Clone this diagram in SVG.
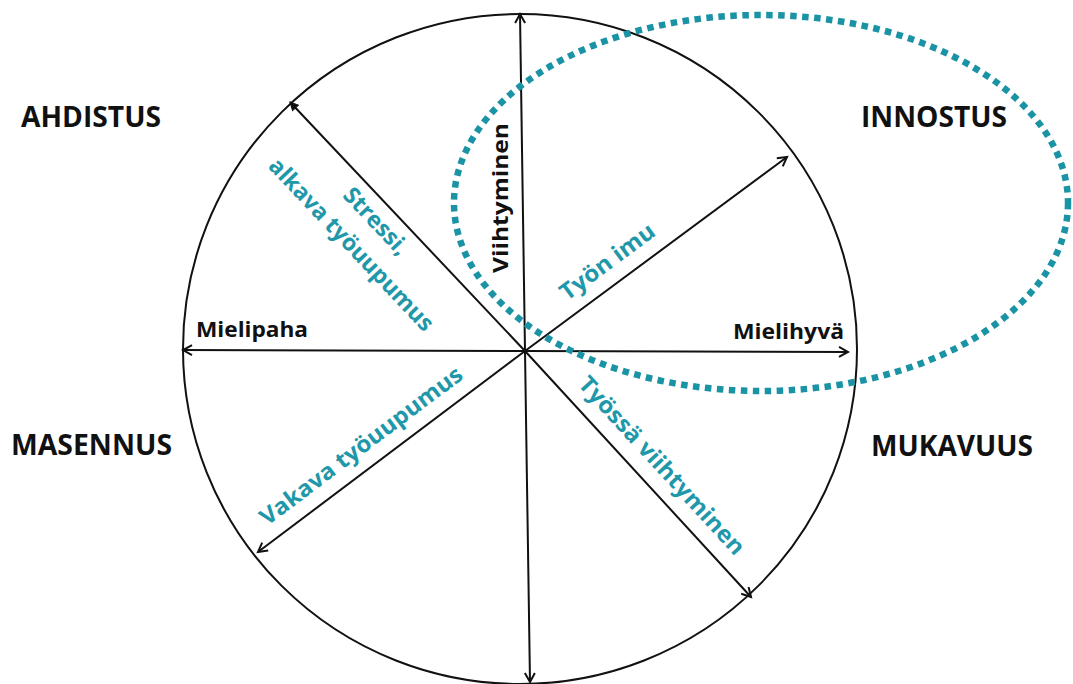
<svg xmlns="http://www.w3.org/2000/svg" width="1073" height="684" viewBox="0 0 1073 684">
<style>
.big{font-family:"Open Sans","Liberation Sans",sans-serif;font-weight:700;font-size:28px;fill:#111}
.lbl{font-family:"Open Sans","Liberation Sans",sans-serif;font-weight:700;font-size:22px;fill:#111}
.teal{font-family:"Open Sans","Liberation Sans",sans-serif;font-weight:700;font-size:23px;fill:#2197aa}
.spoke{stroke:#111;stroke-width:2;fill:none}
</style>
<defs>
<marker id="arr" markerUnits="userSpaceOnUse" markerWidth="14" markerHeight="14" refX="11" refY="6" orient="auto">
<path d="M2,1 L11,6 L2,11" fill="none" stroke="#111" stroke-width="2"/>
</marker>
<marker id="arrf" markerUnits="userSpaceOnUse" markerWidth="12" markerHeight="12" refX="9" refY="5" orient="auto">
<path d="M1,1 L9,5 L1,9 Z" fill="#111" stroke="#111" stroke-width="1"/>
</marker>
</defs>
<rect width="1073" height="684" fill="#fff"/>
<g id="circle">
<ellipse cx="520" cy="349" rx="337" ry="335" fill="none" stroke="#111" stroke-width="2"/>
</g>
<g id="connectors">
<line class="spoke" x1="525" y1="351" x2="520" y2="14" marker-end="url(#arr)"/>
<line class="spoke" x1="525" y1="351" x2="530" y2="682" marker-end="url(#arr)"/>
<line class="spoke" x1="525" y1="351" x2="183" y2="350" marker-end="url(#arr)"/>
<line class="spoke" x1="525" y1="351" x2="848" y2="352" marker-end="url(#arr)"/>
<line class="spoke" x1="525" y1="351" x2="290" y2="102" marker-end="url(#arrf)"/>
<line class="spoke" x1="525" y1="351" x2="787" y2="157" marker-end="url(#arr)"/>
<line class="spoke" x1="525" y1="351" x2="258" y2="552" marker-end="url(#arr)"/>
<line class="spoke" x1="525" y1="351" x2="751" y2="597" marker-end="url(#arr)"/>
</g>
<g id="innostus-zone">
<ellipse cx="761" cy="203" rx="307" ry="188" fill="none" stroke="#1a93a5" stroke-width="6.5" stroke-dasharray="6.5 5.5"/>
</g>
<g id="ahdistus"><text class="big" x="21" y="127" textLength="140" lengthAdjust="spacingAndGlyphs">AHDISTUS</text></g>
<g id="innostus"><text class="big" x="861" y="127" textLength="146" lengthAdjust="spacingAndGlyphs">INNOSTUS</text></g>
<g id="masennus"><text class="big" x="11" y="455" textLength="161" lengthAdjust="spacingAndGlyphs">MASENNUS</text></g>
<g id="mukavuus"><text class="big" x="871" y="456" textLength="162" lengthAdjust="spacingAndGlyphs">MUKAVUUS</text></g>
<g id="mielipaha"><text class="lbl" x="196" y="337" textLength="112" lengthAdjust="spacingAndGlyphs">Mielipaha</text></g>
<g id="mielihyva"><text class="lbl" x="733" y="339" textLength="111" lengthAdjust="spacingAndGlyphs">Mielihyvä</text></g>
<g id="viihtyminen" transform="translate(500,198) rotate(-90)"><text class="lbl" x="0" y="8" text-anchor="middle" textLength="150" lengthAdjust="spacingAndGlyphs">Viihtyminen</text></g>
<g id="stressi" transform="translate(390,208) rotate(46.6)">
<text class="teal" x="0" y="27" text-anchor="middle">Stressi,</text>
<text class="teal" x="0" y="61" text-anchor="middle" textLength="228" lengthAdjust="spacingAndGlyphs">alkava työuupumus</text>
</g>
<g id="tyon-imu" transform="translate(621,280) rotate(-36.5)"><text class="teal" x="0" y="-15" text-anchor="middle" textLength="112" lengthAdjust="spacingAndGlyphs">Työn imu</text></g>
<g id="vakava" transform="translate(375,464) rotate(-37)"><text class="teal" x="0" y="-15" text-anchor="middle" textLength="247" lengthAdjust="spacingAndGlyphs">Vakava työuupumus</text></g>
<g id="tyossa" transform="translate(645,481) rotate(47.4)"><text class="teal" x="0" y="-15" text-anchor="middle" textLength="233" lengthAdjust="spacingAndGlyphs">Työssä viihtyminen</text></g>
</svg>
